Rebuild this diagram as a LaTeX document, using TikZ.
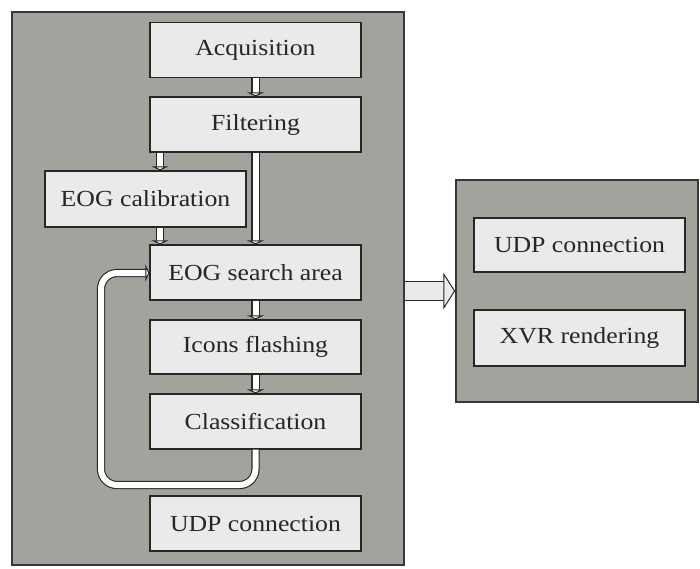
\documentclass[tikz,border=0pt]{standalone}
\usepackage{fontspec}
\setmainfont{Liberation Serif}[FakeStretch=1.12]
\usepackage{tikz}
\usetikzlibrary{arrows.meta}

\definecolor{panelgray}{RGB}{163,163,157}
\definecolor{boxgray}{RGB}{234,234,234}
\definecolor{edgegray}{RGB}{55,55,55}

\tikzset{
  panel/.style={draw=edgegray, fill=panelgray, line width=1.5pt, inner sep=0pt},
  stage/.style={draw=black!85, fill=boxgray, line width=1.2pt, inner sep=0pt,
    minimum width=211pt, minimum height=55pt, text=black!85},
  hollow/.style={draw=black!85, line width=1.1pt, double=white, double distance=6pt,
    -{Triangle[fill=white, length=4pt, width=17pt]}},
  bigarrow/.style={draw=black!85, line width=1pt, double=boxgray, double distance=18pt,
    -{Triangle[fill=boxgray, length=12pt, width=37pt]}}
}

\begin{document}
\begin{tikzpicture}[x=1pt,y=-1pt,every node/.style={font=\fontsize{23}{27}\selectfont}]
\useasboundingbox (0,0) rectangle (700,568);
% the two panels
\node[panel, minimum width=392pt, minimum height=553pt] (left) at (208,288.5) {};
\node[panel, minimum width=242pt, minimum height=222pt] (right) at (577,291) {};
% main column
\node[stage] (acq) at (255.5,50) {Acquisition};
\node[stage] (filt) at (255.5,124.5) {Filtering};
\node[stage, minimum width=201pt, minimum height=56pt] (calib) at (145.5,199) {EOG calibration};
\node[stage] (search) at (255.5,272.5) {EOG search area};
\node[stage, minimum height=54pt] (icons) at (255.5,347) {Icons flashing};
\node[stage] (class) at (255.5,421.5) {Classification};
\node[stage] (udp) at (255.5,523.5) {UDP connection};
% right column
\node[stage, minimum height=54pt] (rudp) at (579.5,245) {UDP connection};
\node[stage, minimum height=56pt] (xvr) at (579.5,338) {XVR rendering};
% arrows
\draw[hollow] (acq.south) -- (filt.north);
\draw[hollow] (filt.south -| 160,0) -- (calib.north -| 160,0);
\draw[hollow] (calib.south -| 160,0) -- (search.north -| 160,0);
\draw[hollow] (filt.south) -- (search.north);
\draw[hollow] (search.south) -- (icons.north);
\draw[hollow] (icons.south) -- (class.north);
\draw[hollow, rounded corners=16pt] (class.south) -- (class.south |- 0,485) -- (101,485)
  -- (101,273) -- (search.west |- 0,273);
\draw[bigarrow] (left.east |- 0,291) -- (right.west);
\end{tikzpicture}
\end{document}
